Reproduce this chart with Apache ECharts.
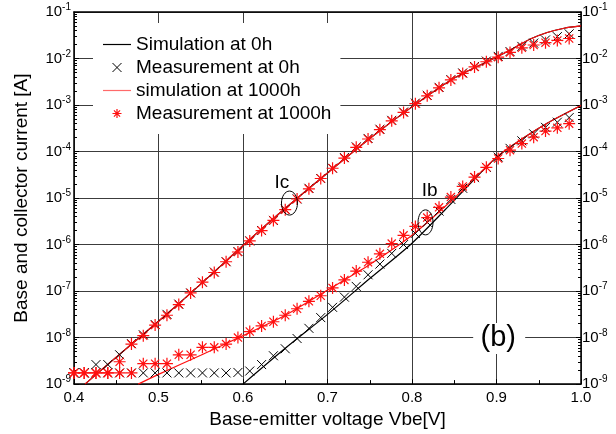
<!DOCTYPE html>
<html>
<head>
<meta charset="utf-8">
<script src="https://cdn.jsdelivr.net/npm/echarts@6/dist/echarts.min.js"></script>
<style>
  html, body { margin: 0; padding: 0; background: #fff; }
  #chart { width: 616px; height: 434px; }
</style>
</head>
<body>
<div id="chart"></div>
<script>
// Base-emitter bias points of the measurements (V)
const vbeMeas = [0.400, 0.412, 0.426, 0.440, 0.454, 0.468, 0.482, 0.496, 0.510, 0.524,
                 0.538, 0.552, 0.566, 0.580, 0.594, 0.608, 0.622, 0.636, 0.650, 0.664,
                 0.678, 0.692, 0.706, 0.720, 0.734, 0.748, 0.762, 0.776, 0.790, 0.804,
                 0.818, 0.832, 0.846, 0.860, 0.874, 0.888, 0.902, 0.916, 0.930, 0.944,
                 0.958, 0.972, 0.986];

// Measured collector current Ic (A)
const icMeas0h = [1.74e-9, 1.74e-9, 2.63e-9, 2.63e-9, 4.27e-9, 7.41e-9, 1.15e-8, 1.91e-8, 3.16e-8, 5.25e-8,
                  9.12e-8, 1.55e-7, 2.57e-7, 4.27e-7, 7.08e-7, 1.20e-6, 2.00e-6, 3.31e-6, 5.75e-6, 9.55e-6,
                  1.62e-5, 2.63e-5, 4.37e-5, 7.41e-5, 1.26e-4, 1.91e-4, 3.02e-4, 4.68e-4, 7.08e-4, 1.10e-3,
                  1.62e-3, 2.40e-3, 3.51e-3, 4.90e-3, 6.76e-3, 8.81e-3, 1.11e-2, 1.41e-2, 1.82e-2, 2.14e-2,
                  2.51e-2, 2.95e-2, 3.39e-2];
const icMeas1000h = [1.74e-9, 1.74e-9, 1.74e-9, 1.74e-9, 3.02e-9, 7.24e-9, 1.10e-8, 1.86e-8, 3.02e-8, 5.13e-8,
                     9.12e-8, 1.55e-7, 2.51e-7, 4.27e-7, 6.92e-7, 1.20e-6, 2.00e-6, 3.31e-6, 5.62e-6, 9.55e-6,
                     1.58e-5, 2.63e-5, 4.37e-5, 7.24e-5, 1.23e-4, 1.86e-4, 2.95e-4, 4.57e-4, 6.92e-4, 1.07e-3,
                     1.58e-3, 2.34e-3, 3.47e-3, 4.79e-3, 6.61e-3, 8.51e-3, 1.07e-2, 1.35e-2, 1.70e-2, 1.95e-2,
                     2.19e-2, 2.45e-2, 2.69e-2];

// Measured base current Ib (A)
const ibMeas0h = [1.74e-9, 1.74e-9, 1.74e-9, 1.74e-9, 1.74e-9, 1.74e-9, 1.74e-9, 1.74e-9, 1.74e-9, 1.74e-9,
                  1.74e-9, 1.74e-9, 1.74e-9, 1.74e-9, 1.78e-9, 1.91e-9, 2.63e-9, 4.07e-9, 5.75e-9, 9.55e-9,
                  1.58e-8, 2.69e-8, 4.47e-8, 7.41e-8, 1.26e-7, 2.24e-7, 3.80e-7, 6.46e-7, 1.00e-6, 1.74e-6,
                  3.02e-6, 5.25e-6, 9.33e-6, 1.62e-5, 2.75e-5, 4.57e-5, 7.59e-5, 1.17e-4, 1.70e-4, 2.40e-4,
                  3.31e-4, 4.27e-4, 5.37e-4];
const ibMeas1000h = [1.74e-9, 1.74e-9, 1.74e-9, 1.74e-9, 1.74e-9, 1.74e-9, 2.75e-9, 2.75e-9, 2.75e-9, 4.27e-9,
                     4.27e-9, 6.17e-9, 6.17e-9, 7.24e-9, 1.00e-8, 1.35e-8, 1.78e-8, 2.19e-8, 3.02e-8, 4.17e-8,
                     6.03e-8, 7.94e-8, 1.17e-7, 1.74e-7, 2.69e-7, 4.17e-7, 6.31e-7, 1.05e-6, 1.58e-6, 2.45e-6,
                     3.80e-6, 6.31e-6, 1.05e-5, 1.78e-5, 2.82e-5, 4.57e-5, 7.08e-5, 1.07e-4, 1.48e-4, 2.04e-4,
                     2.75e-4, 3.24e-4, 3.98e-4];

// Simulated Ic (A)
const vbeSimIc = [0.413, 0.45, 0.50, 0.55, 0.60, 0.65, 0.70, 0.75, 0.80, 0.85, 0.90, 0.92, 0.94, 0.96, 0.98, 1.00];
const icSim0h = [1.00e-9, 3.80e-9, 2.24e-8, 1.41e-7, 9.55e-7, 6.03e-6, 3.47e-5, 1.91e-4, 9.12e-4, 3.80e-3,
                 1.07e-2, 1.66e-2, 2.63e-2, 3.63e-2, 4.47e-2, 5.01e-2];
const icSim1000h = [1.00e-9, 3.80e-9, 2.24e-8, 1.41e-7, 9.55e-7, 6.03e-6, 3.47e-5, 1.91e-4, 9.12e-4, 3.80e-3,
                    1.07e-2, 1.66e-2, 2.63e-2, 3.63e-2, 4.47e-2, 5.01e-2];

// Simulated Ib (A)
const vbeSimIb0h = [0.600, 0.65, 0.70, 0.75, 0.80, 0.85, 0.90, 0.93, 0.96, 1.00];
const ibSim0h = [1.00e-9, 5.89e-9, 3.16e-8, 1.86e-7, 1.07e-6, 8.91e-6, 7.59e-5, 1.86e-4, 4.07e-4, 9.77e-4];
const vbeSimIb1000h = [0.476, 0.50, 0.55, 0.60, 0.65, 0.70, 0.75, 0.80, 0.85, 0.90, 0.93, 0.96, 1.00];
const ibSim1000h = [1.00e-9, 1.62e-9, 4.17e-9, 1.10e-8, 3.02e-8, 1.05e-7, 3.72e-7, 1.58e-6, 1.00e-5, 7.59e-5,
                    1.86e-4, 4.07e-4, 9.77e-4];

// Axis tick labels
const xTickLabels = ['0.4', '0.5', '0.6', '0.7', '0.8', '0.9', '1.0'];
const yTickExponents = [-9, -8, -7, -6, -5, -4, -3, -2, -1];

const seriesNames = ['Simulation at 0h', 'Measurement at 0h', 'simulation at 1000h', 'Measurement at 1000h'];

const FONT = '"Liberation Sans", Arial, sans-serif';
const RED = '#ff1010';
const CROSS = 'path://M0,0L10,10M10,0L0,10';
const STAR = 'path://M5,0L5,10M0,5L10,5M1.6,1.6L8.4,8.4M8.4,1.6L1.6,8.4';
const DASH = 'path://M0,0H28V1.2H0Z';

const pairs = (xs, ys) => xs.map((x, i) => [x, ys[i]]);

const chart = echarts.init(document.getElementById('chart'), null, { renderer: 'canvas' });

function xLabel(v) {
  const idx = Math.round((v - 0.4) * 10);
  return xTickLabels[idx] !== undefined ? xTickLabels[idx] : '';
}
function yLabel(v) {
  const e = Math.round(Math.log10(v));
  return yTickExponents.indexOf(e) >= 0 ? '{m|10}{e|' + e + '}' : '';
}
const yRich = {
  m: { fontSize: 15, fontFamily: FONT, color: '#000' },
  e: { fontSize: 10, fontFamily: FONT, color: '#000', padding: [0, 0, 9, 0] }
};

const gridLine = { show: true, lineStyle: { color: '#3c3c3c', width: 1 } };
const frame = { show: true, onZero: false, lineStyle: { color: '#000', width: 1.5 } };

function lineSeries(name, xs, ys, color, z) {
  return {
    name, type: 'line', data: pairs(xs, ys), symbol: 'none', showSymbol: false, smooth: 0.25,
    lineStyle: { color, width: 1.2 }, itemStyle: { color }, z, silent: true, clip: true
  };
}
function markerSeries(name, xs, ys, symbol, size, color, width, z) {
  return {
    name, type: 'scatter', data: pairs(xs, ys), symbol, symbolSize: size,
    itemStyle: { color: 'transparent', borderColor: color, borderWidth: width, opacity: 1 },
    z, silent: true, clip: false
  };
}

chart.setOption({
  animation: false,
  backgroundColor: '#fff',
  grid: { left: 74, right: 35, top: 12, bottom: 45 },
  legend: {
    data: [
      { name: seriesNames[0], icon: DASH, itemStyle: { color: '#000', borderWidth: 0 } },
      { name: seriesNames[1], itemStyle: { borderWidth: 1 } },
      { name: seriesNames[2], icon: DASH, itemStyle: { color: '#ff6a6a', borderWidth: 0 } },
      { name: seriesNames[3], itemStyle: { borderWidth: 1.2 } }
    ],
    orient: 'vertical',
    left: 93, top: 23,
    backgroundColor: '#fff',
    padding: [12, 9, 11, 10],
    itemWidth: 28, itemHeight: 9, itemGap: 4,
    selectedMode: false,
    textStyle: { fontFamily: FONT, fontSize: 19, color: '#000' },
    z: 10
  },
  xAxis: [{
    type: 'value', min: 0.4, max: 1.0, interval: 0.1,
    name: 'Base-emitter voltage Vbe[V]', nameLocation: 'middle', nameGap: 22,
    nameTextStyle: { fontFamily: FONT, fontSize: 19, color: '#000' },
    axisLine: frame,
    axisTick: { show: true, inside: true, length: 5, lineStyle: { color: '#000' } },
    minorTick: { show: true, splitNumber: 2, length: 4, lineStyle: { color: '#000' } },
    splitLine: gridLine,
    axisLabel: { formatter: xLabel, fontFamily: FONT, fontSize: 15, color: '#000', margin: 6 }
  }, {
    type: 'value', min: 0.4, max: 1.0, interval: 0.1, position: 'top',
    axisLine: frame, axisTick: { show: false }, axisLabel: { show: false }, splitLine: { show: false }
  }],
  yAxis: [{
    type: 'log', logBase: 10, min: 1e-9, max: 1e-1,
    name: 'Base and collector current [A]', nameLocation: 'middle', nameGap: 43,
    nameTextStyle: { fontFamily: FONT, fontSize: 19, color: '#000' },
    axisLine: frame,
    axisTick: { show: true, inside: true, length: 5, lineStyle: { color: '#000' } },
    minorTick: { show: true, splitNumber: 9, length: 3, lineStyle: { color: '#000' } },
    splitLine: gridLine,
    axisLabel: { formatter: yLabel, rich: yRich, margin: 3 }
  }, {
    type: 'log', logBase: 10, min: 1e-9, max: 1e-1, position: 'right',
    axisLine: frame,
    axisTick: { show: true, inside: true, length: 5, lineStyle: { color: '#000' } },
    minorTick: { show: true, splitNumber: 9, length: 3, lineStyle: { color: '#000' } },
    splitLine: { show: false },
    axisLabel: { formatter: yLabel, rich: yRich, margin: 1 }
  }],
  series: [
    lineSeries(seriesNames[0], vbeSimIc, icSim0h, '#000', 2),
    lineSeries(seriesNames[0], vbeSimIb0h, ibSim0h, '#000', 2),
    lineSeries(seriesNames[2], vbeSimIc, icSim1000h, RED, 3),
    lineSeries(seriesNames[2], vbeSimIb1000h, ibSim1000h, RED, 3),
    markerSeries(seriesNames[1], vbeMeas, icMeas0h, CROSS, 9, '#000', 1, 4),
    markerSeries(seriesNames[1], vbeMeas, ibMeas0h, CROSS, 9, '#000', 1, 4),
    markerSeries(seriesNames[3], vbeMeas, icMeas1000h, STAR, 12, RED, 1.2, 5),
    markerSeries(seriesNames[3], vbeMeas, ibMeas1000h, STAR, 12, RED, 1.2, 5)
  ]
});

// Annotations anchored in data coordinates
const toPx = (v, i) => chart.convertToPixel({ xAxisIndex: 0, yAxisIndex: 0 }, [v, i]);
const icMark = toPx(0.655, 7.8e-6);
const ibMark = toPx(0.816, 3.0e-6);
const icText = toPx(0.646, 2.1e-5);
const ibText = toPx(0.821, 1.45e-5);
const tagPos = toPx(0.902, 9.8e-9);

chart.setOption({
  graphic: [
    { type: 'ellipse', z: 20, shape: { cx: icMark[0], cy: icMark[1], rx: 8, ry: 12 },
      style: { fill: 'none', stroke: '#000', lineWidth: 1 } },
    { type: 'ellipse', z: 20, shape: { cx: ibMark[0], cy: ibMark[1], rx: 7.5, ry: 12.5 },
      style: { fill: 'none', stroke: '#000', lineWidth: 1 } },
    { type: 'text', z: 20, x: icText[0], y: icText[1],
      style: { text: 'Ic', font: '19px ' + FONT, fill: '#000', textAlign: 'center', textVerticalAlign: 'middle' } },
    { type: 'text', z: 20, x: ibText[0], y: ibText[1],
      style: { text: 'Ib', font: '19px ' + FONT, fill: '#000', textAlign: 'center', textVerticalAlign: 'middle' } },
    { type: 'rect', z: 19, shape: { x: tagPos[0] - 25, y: tagPos[1] - 15, width: 52, height: 31 },
      style: { fill: '#fff' } },
    { type: 'text', z: 20, x: tagPos[0], y: tagPos[1],
      style: { text: '(b)', font: '29px ' + FONT, fill: '#000', textAlign: 'center', textVerticalAlign: 'middle' } }
  ]
});
</script>
</body>
</html>
